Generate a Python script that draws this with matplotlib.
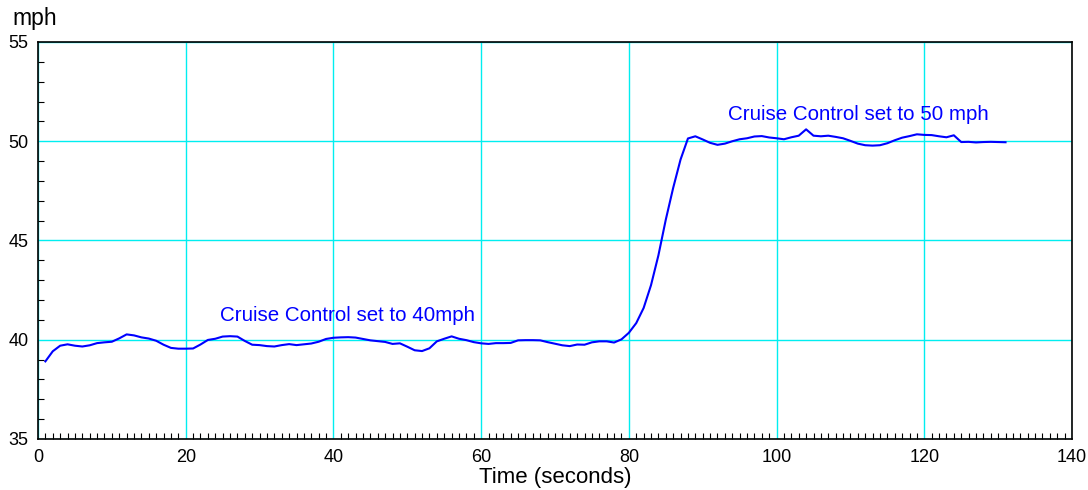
import matplotlib
matplotlib.use("Agg")
import matplotlib.pyplot as plt
from matplotlib.ticker import MultipleLocator

plt.rcParams['font.family'] = ['Liberation Sans', 'DejaVu Sans']

time_s = list(range(1, 132))
speed_mph = [
    38.91, 39.42, 39.70, 39.77, 39.70, 39.66, 39.72, 39.83, 39.87, 39.90,
    40.07, 40.27, 40.22, 40.12, 40.06, 39.95, 39.75, 39.59, 39.55, 39.55,
    39.56, 39.76, 39.99, 40.05, 40.16, 40.18, 40.16, 39.94, 39.75, 39.73,
    39.68, 39.66, 39.73, 39.78, 39.73, 39.77, 39.81, 39.90, 40.04, 40.10,
    40.12, 40.13, 40.11, 40.04, 39.97, 39.93, 39.89, 39.79, 39.82, 39.65,
    39.47, 39.43, 39.57, 39.92, 40.05, 40.17, 40.05, 39.98, 39.88, 39.82,
    39.79, 39.83, 39.83, 39.84, 39.97, 39.98, 39.98, 39.97, 39.88, 39.80,
    39.72, 39.68, 39.76, 39.75, 39.87, 39.92, 39.92, 39.86, 40.02, 40.35,
    40.84, 41.60, 42.75, 44.25, 46.05, 47.65, 49.08, 50.14, 50.25, 50.09,
    49.92, 49.82, 49.88, 50.00, 50.10, 50.15, 50.24, 50.26, 50.19, 50.15,
    50.10, 50.20, 50.28, 50.60, 50.28, 50.25, 50.28, 50.22, 50.15, 50.02,
    49.88, 49.80, 49.78, 49.80, 49.90, 50.05, 50.18, 50.26, 50.35, 50.32,
    50.31, 50.25, 50.20, 50.30, 49.96, 49.97, 49.94, 49.96, 49.97, 49.96,
    49.95,
]

x_ticks = [0, 20, 40, 60, 80, 100, 120, 140]
y_ticks = [35, 40, 45, 50, 55]
annotations = [
    (24.6, 41.2, "Cruise Control set to 40mph"),
    (93.4, 51.35, "Cruise Control set to 50 mph"),
]

fig = plt.figure(figsize=(10.88, 4.90), dpi=100)
ax = fig.add_axes([38/1088, 1-439/490, (1072-38)/1088, (439-42)/490])

ax.plot(time_s, speed_mph, color='#0000ff', lw=1.5, zorder=3)

ax.set_xlim(0, 140)
ax.set_ylim(35, 55)
ax.set_xticks(x_ticks)
ax.set_yticks(y_ticks)
ax.xaxis.set_minor_locator(MultipleLocator(1))
ax.yaxis.set_minor_locator(MultipleLocator(1))
ax.grid(True, which='major', color='#00eef0', lw=1.0, zorder=1)
ax.tick_params(which='both', direction='in', top=False, right=False,
               labelsize=13, color='black')
ax.tick_params(which='major', length=0)
ax.tick_params(axis='x', which='major', pad=7)
ax.tick_params(axis='y', which='major', pad=7)
ax.tick_params(which='minor', length=4, width=0.8)
for s in ax.spines.values():
    s.set_color('black')
    s.set_linewidth(1.2)

for x, y, txt in annotations:
    ax.text(x, y, txt, color='#0000ff', fontsize=14.8, va='center', ha='left')

fig.text(12/1088, 1-18/490, "mph", fontsize=16.5, va='center', ha='left')
fig.text((38 + 1072) / 2 / 1088, 2/490, "Time (seconds)", fontsize=16,
         ha='center', va='bottom')

fig.savefig("out.png", dpi=100)
